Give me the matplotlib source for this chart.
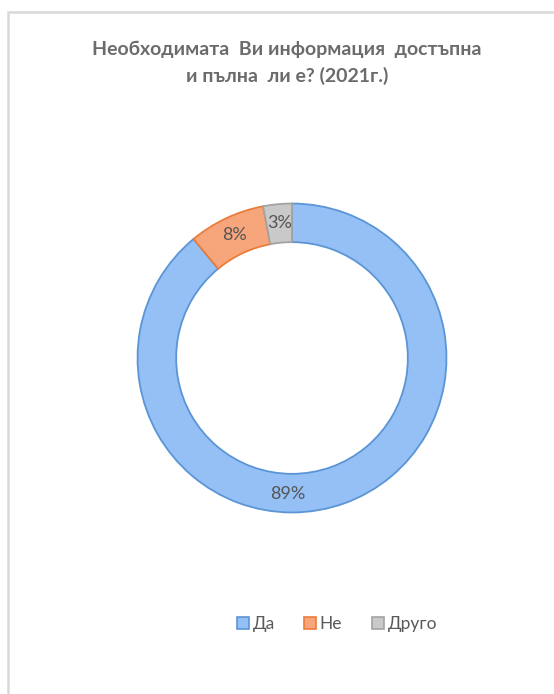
import matplotlib
matplotlib.use("Agg")
import matplotlib.pyplot as plt
import numpy as np
from matplotlib.patches import Rectangle
from matplotlib.lines import Line2D

plt.rcParams['font.family'] = ['Lato', 'DejaVu Sans']

categories = ["Да", "Не", "Друго"]
values = [89, 8, 3]
face_colors = ["#94c0f5", "#f7a67c", "#c9c9c9"]
edge_colors = ["#5b95d6", "#ea7d3c", "#a3a3a3"]
title = "Необходимата  Ви информация  достъпна\nи пълна  ли е? (2021г.)"

W, H = 554, 694
fig = plt.figure(figsize=(W / 100, H / 100), dpi=100)
fig.patch.set_facecolor("white")

# outer chart frame
fig.patches.append(Rectangle((8 / W, -0.05), 1.2, (H - 12) / H + 0.05,
                             transform=fig.transFigure, fill=False,
                             edgecolor="#d9d9d9", linewidth=1.8))

cx, cy, R = 292, 358, 156
ax = fig.add_axes([(cx - R) / W, (H - cy - R) / H, 2 * R / W, 2 * R / H])

ring = 0.25
wedges, _ = ax.pie(values, radius=1.0, startangle=90, counterclock=False,
                   colors=face_colors,
                   wedgeprops=dict(width=ring, linewidth=1.3))
for w, ec in zip(wedges, edge_colors):
    w.set_edgecolor(ec)
ax.set_xlim(-1.01, 1.01)
ax.set_ylim(-1.01, 1.01)
ax.set_aspect("equal")
ax.axis("off")

# percentage labels at the middle of the ring
total = sum(values)
label_r = 1.0 - ring / 2 + 0.005
start = 90.0
for i, v in enumerate(values):
    span = 360.0 * v / total
    mid = start - span / 2
    start -= span
    if i == 0:
        mid = -92.0  # largest slice label sits at the bottom of the ring
    a = np.deg2rad(mid)
    ax.text(label_r * np.cos(a), label_r * np.sin(a), f"{v}%",
            ha="center", va="center", fontsize=13, color="#555555")

fig.text(287 / W, (H - 63) / H, title, ha="center", va="center",
         fontsize=14, fontweight="bold", color="#6b6b6b",
         linespacing=1.55)

handles = [Line2D([], [], marker="s", linestyle="none", markersize=8,
                  markerfacecolor=fc, markeredgecolor=ec, markeredgewidth=1.2)
           for fc, ec in zip(face_colors, edge_colors)]
fig.legend(handles, categories, loc="center", ncol=3,
           bbox_to_anchor=(336 / W, (H - 624) / H), frameon=False,
           fontsize=12.5, labelcolor="#595959", handletextpad=0.1,
           columnspacing=1.6, handlelength=0.9)

fig.savefig("out.png", dpi=100)
